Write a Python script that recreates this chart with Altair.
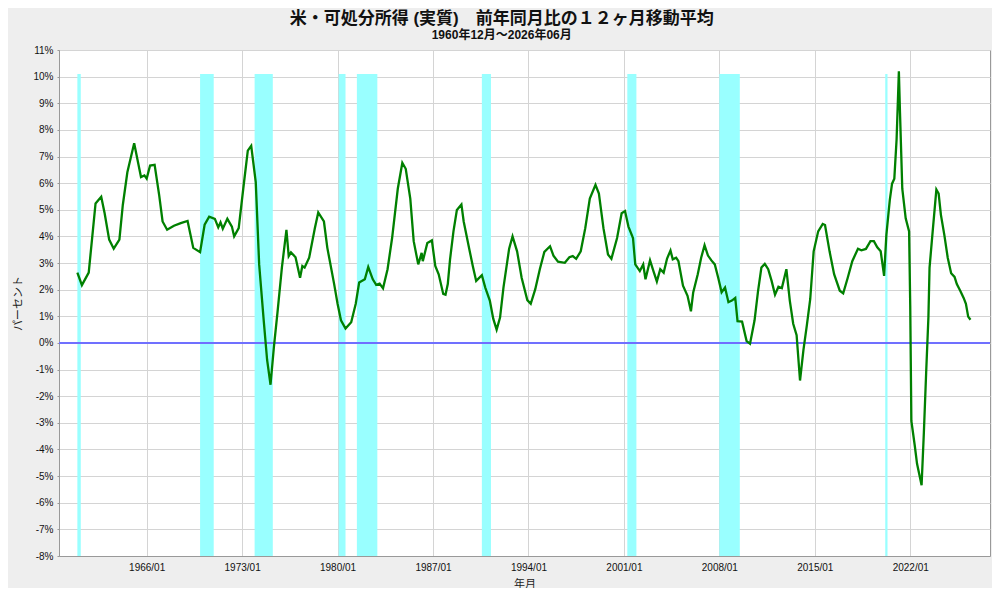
import altair as alt
import pandas as pd

# ---- data ----
DATES = [
    "1960-12", "1961-04", "1961-10", "1962-01", "1962-04", "1962-09", "1962-12", "1963-04", "1963-08",
    "1964-01", "1964-04", "1964-08", "1965-02", "1965-08", "1965-11", "1966-01", "1966-04", "1966-08",
    "1966-12", "1967-03", "1967-07", "1968-01", "1968-07", "1969-01", "1969-06", "1969-12", "1970-04",
    "1970-08", "1971-01", "1971-04", "1971-06", "1971-08", "1971-12", "1972-04", "1972-06", "1972-10",
    "1973-02", "1973-06", "1973-09", "1974-01", "1974-04", "1974-08", "1974-11", "1975-02", "1975-05",
    "1975-08", "1975-12", "1976-04", "1976-06", "1976-08", "1976-12", "1977-04", "1977-06", "1977-08",
    "1977-12", "1978-05", "1978-08", "1979-01", "1979-04", "1979-10", "1980-01", "1980-04", "1980-08",
    "1981-01", "1981-05", "1981-08", "1982-01", "1982-04", "1982-08", "1982-11", "1983-02", "1983-05",
    "1983-09", "1984-01", "1984-06", "1984-10", "1985-01", "1985-05", "1985-08", "1985-12", "1986-03",
    "1986-04", "1986-08", "1986-12", "1987-03", "1987-06", "1987-10", "1987-12", "1988-02", "1988-04",
    "1988-07", "1988-10", "1989-02", "1989-04", "1989-09", "1989-12", "1990-03", "1990-08", "1990-11",
    "1991-03", "1991-06", "1991-09", "1991-12", "1992-03", "1992-08", "1992-11", "1993-03", "1993-07",
    "1993-12", "1994-03", "1994-07", "1994-11", "1995-03", "1995-08", "1995-11", "1996-03", "1996-09",
    "1997-01", "1997-04", "1997-07", "1997-11", "1998-03", "1998-07", "1998-12", "1999-03", "1999-07",
    "1999-11", "2000-02", "2000-07", "2000-11", "2001-02", "2001-05", "2001-09", "2001-11", "2002-03",
    "2002-06", "2002-08", "2002-12", "2003-03", "2003-06", "2003-09", "2003-12", "2004-03", "2004-06",
    "2004-08", "2004-11", "2005-01", "2005-05", "2005-09", "2005-12", "2006-02", "2006-06", "2006-09",
    "2006-12", "2007-03", "2007-06", "2007-09", "2007-12", "2008-03", "2008-06", "2008-09", "2008-12",
    "2009-03", "2009-05", "2009-09", "2010-01", "2010-04", "2010-08", "2010-11", "2011-02", "2011-05",
    "2011-08", "2011-11", "2012-02", "2012-05", "2012-08", "2012-12", "2013-03", "2013-06", "2013-09",
    "2013-12", "2014-03", "2014-06", "2014-09", "2014-12", "2015-04", "2015-08", "2015-10", "2016-02",
    "2016-06", "2016-11", "2017-02", "2017-06", "2017-10", "2018-03", "2018-06", "2018-10", "2019-02",
    "2019-05", "2019-08", "2019-11", "2020-02", "2020-04", "2020-07", "2020-09", "2020-11", "2021-01",
    "2021-03", "2021-04", "2021-06", "2021-09", "2021-12", "2022-01", "2022-02", "2022-05", "2022-07",
    "2022-11", "2023-01", "2023-03", "2023-05", "2023-06", "2023-09", "2023-12", "2024-02", "2024-04",
    "2024-07", "2024-10", "2025-01", "2025-04", "2025-06", "2025-09", "2025-12", "2026-02", "2026-04",
    "2026-06",
]
VALUES = [
    2.64, 2.17, 2.64, 3.94, 5.24, 5.49, 4.87, 3.88, 3.54,
    3.88, 5.18, 6.41, 7.50, 6.23, 6.29, 6.17, 6.66, 6.69,
    5.55, 4.56, 4.25, 4.40, 4.50, 4.58, 3.57, 3.41, 4.44,
    4.74, 4.66, 4.34, 4.53, 4.29, 4.66, 4.37, 4.00, 4.31,
    5.79, 7.22, 7.40, 6.04, 2.95, 0.85, -0.64, -1.57, -0.14,
    1.09, 2.83, 4.25, 3.26, 3.40, 3.22, 2.45, 2.89, 2.83,
    3.20, 4.31, 4.90, 4.56, 3.57, 2.21, 1.47, 0.85, 0.54,
    0.78, 1.47, 2.27, 2.39, 2.85, 2.39, 2.18, 2.23, 2.05,
    2.77, 3.94, 5.79, 6.76, 6.54, 5.42, 3.82, 2.95, 3.38,
    3.07, 3.75, 3.85, 2.89, 2.58, 1.84, 1.81, 2.21, 3.14,
    4.19, 4.99, 5.20, 4.56, 3.51, 2.89, 2.33, 2.54, 2.08,
    1.59, 0.91, 0.50, 0.95, 2.08, 3.54, 4.00, 3.44, 2.45,
    1.61, 1.47, 2.02, 2.77, 3.42, 3.63, 3.28, 3.05, 3.01,
    3.22, 3.26, 3.16, 3.44, 4.31, 5.42, 5.94, 5.61, 4.31,
    3.32, 3.16, 3.94, 4.87, 4.95, 4.37, 3.94, 2.95, 2.70,
    2.95, 2.39, 3.10, 2.70, 2.31, 2.77, 2.64, 3.17, 3.47,
    3.14, 3.20, 3.07, 2.15, 1.77, 1.19, 1.90, 2.58, 3.20,
    3.67, 3.28, 3.10, 2.95, 2.45, 1.90, 2.08, 1.53, 1.59,
    1.69, 0.82, 0.80, 0.07, -0.03, 0.85, 1.93, 2.83, 2.97,
    2.77, 2.33, 1.81, 2.11, 2.06, 2.77, 1.59, 0.72, 0.29,
    -1.41, -0.27, 0.66, 1.65, 3.44, 4.19, 4.47, 4.43, 3.44,
    2.58, 1.96, 1.86, 2.45, 3.07, 3.54, 3.48, 3.53, 3.82,
    3.82, 3.59, 3.44, 2.52, 4.06, 5.36, 5.98, 6.17, 7.65,
    10.20, 8.64, 5.79, 4.68, 4.19, 1.40, -2.93, -3.86, -4.54,
    -5.34, -3.36, -1.13, 0.97, 2.83, 4.31, 5.76, 5.61, 4.81,
    4.06, 3.20, 2.62, 2.48, 2.21, 1.96, 1.69, 1.47, 0.99,
    0.87,
]
REC_START = ["1960-12", "1969-12", "1973-12", "1980-02", "1981-06", "1990-08", "2001-04", "2008-01", "2020-03"]
REC_END = ["1961-03", "1970-12", "1975-04", "1980-08", "1982-12", "1991-04", "2001-12", "2009-07", "2020-05"]
SHADE_TOP = 10.1
Y_MIN, Y_MAX = -8, 11
Y_TICKS = list(range(-8, 12))
X_TICK_YEARS = [1966, 1973, 1980, 1987, 1994, 2001, 2008, 2015, 2022]
X_DOMAIN = [1959.57, 2027.85]

TITLE = "米・可処分所得 (実質)　前年同月比の１２ヶ月移動平均"
SUBTITLE = "1960年12月～2026年06月"


def dec(s):
    y, m = s.split("-")
    return int(y) + (int(m) - 1) / 12.0


line_df = pd.DataFrame({"t": [dec(d) for d in DATES], "v": VALUES, "date": DATES})
rec_df = pd.DataFrame({"start": [dec(d) for d in REC_START], "end": [dec(d) for d in REC_END]})

FONT = "Liberation Sans, Noto Sans CJK JP, sans-serif"

x_scale = alt.Scale(domain=X_DOMAIN, nice=False, zero=False)
y_scale = alt.Scale(domain=[Y_MIN, Y_MAX], nice=False, zero=False)

x_axis = alt.Axis(
    values=X_TICK_YEARS,
    labelExpr="datum.value + '/01'",
    title="年月",
    grid=True,
    ticks=False,
    labelPadding=6,
    titlePadding=6,
    labelFlush=False,
)
y_axis = alt.Axis(
    values=Y_TICKS,
    labelExpr="datum.value + '%'",
    title="パーセント",
    grid=True,
    tickSize=2,
    labelPadding=4,
    titlePadding=9,
)

rec = (
    alt.Chart(rec_df)
    .mark_rect(color="#99ffff", opacity=1)
    .encode(
        x=alt.X("start:Q", scale=x_scale, axis=x_axis),
        x2="end:Q",
        y=alt.YDatum(SHADE_TOP, scale=y_scale, axis=y_axis),
        y2=alt.datum(Y_MIN),
    )
)

zero = (
    alt.Chart(rec_df)
    .mark_rule(color="#7070ff", strokeWidth=1)
    .encode(y=alt.YDatum(0, scale=y_scale, axis=y_axis))
)

line = (
    alt.Chart(line_df)
    .mark_line(color="#008000", strokeWidth=2.3, interpolate="linear")
    .encode(
        x=alt.X("t:Q", scale=x_scale, axis=x_axis),
        y=alt.Y("v:Q", scale=y_scale, axis=y_axis),
    )
)

chart = (
    alt.layer(rec, zero, line)
    .properties(
        width=931,
        height=506,
        autosize=alt.AutoSizeParams(type="none"),
        padding={"left": 51, "top": 42, "right": 2, "bottom": 32},
        background="#eeeeee",
        title=alt.TitleParams(
            text=TITLE,
            subtitle=SUBTITLE,
            font=FONT,
            fontSize=17,
            fontWeight="bold",
            color="#111111",
            subtitleFont=FONT,
            subtitleFontSize=12,
            subtitleFontWeight="bold",
            subtitleColor="#111111",
            subtitlePadding=2,
            anchor="middle",
            frame="bounds",
            offset=3,
        ),
    )
    .configure_view(fill="white", stroke="#999999", strokeWidth=1)
    .configure_axis(
        labelFont=FONT,
        labelFontSize=10,
        labelColor="#111111",
        titleFont=FONT,
        titleFontSize=11,
        titleFontWeight="normal",
        titleColor="#222222",
        gridColor="#d4d4d4",
        gridWidth=1,
        domainColor="#999999",
        tickColor="#999999",
    )
)

chart.save("out.html", embed_options={"renderer": "svg", "actions": False})
